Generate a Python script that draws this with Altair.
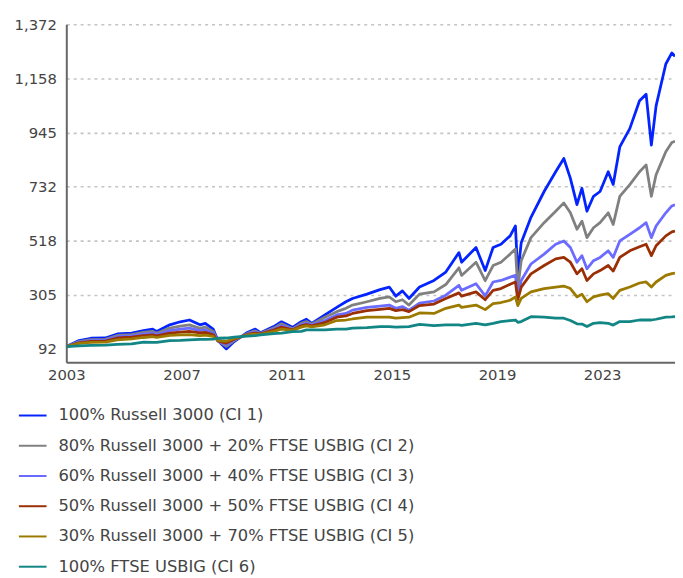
import altair as alt
import pandas as pd
from datetime import datetime, timezone

# fractional-year positions of the readings
t_years = [
    2003.113, 2003.60, 2004.05, 2004.60, 2005.05, 2005.60, 2006.05, 2006.40, 2006.55,
    2007.05, 2007.45, 2007.80, 2008.20, 2008.40, 2008.70, 2008.88, 2009.20, 2009.50,
    2010.00, 2010.30, 2010.50, 2011.00, 2011.30, 2011.72, 2012.05, 2012.25, 2012.45,
    2012.95, 2013.40, 2013.75, 2014.00, 2014.55, 2015.05, 2015.40, 2015.65, 2015.90,
    2016.15, 2016.55, 2017.10, 2017.55, 2018.05, 2018.15, 2018.70, 2019.05, 2019.35,
    2019.65, 2020.00, 2020.20, 2020.29, 2020.42, 2020.79, 2021.29, 2021.73, 2022.04,
    2022.29, 2022.54, 2022.73, 2022.92, 2023.17, 2023.42, 2023.73, 2023.92, 2024.17,
    2024.55, 2024.92, 2025.17, 2025.37, 2025.55, 2025.92, 2026.15, 2026.27,
]

ci1 = [100, 124, 133, 134, 150, 153, 163, 169, 160,
       186, 198, 205, 186, 192, 169, 124, 91, 120,
       156, 169, 155, 179, 198, 176, 198, 208, 192,
       225, 255, 277, 290, 307, 325, 335, 299, 320,
       290, 335, 361, 394, 471, 433, 491, 400, 491,
       504, 537, 576, 385, 510, 610, 712, 790, 842,
       764, 660, 725, 634, 693, 712, 790, 740, 888,
       960, 1070, 1096, 895, 1050, 1215, 1259, 1245]

ci2 = [100, 120, 128, 129, 144, 147, 156, 160, 153,
       173, 181, 186, 172, 177, 160, 123, 101, 124,
       152, 162, 153, 173, 190, 170, 192, 199, 188,
       216, 238, 251, 264, 277, 290, 296, 277, 285,
       264, 307, 316, 345, 411, 381, 433, 360, 420,
       433, 465, 485, 330, 439, 530, 589, 634, 667,
       628, 563, 595, 530, 569, 589, 628, 582, 693,
       739, 790, 817, 693, 778, 869, 905, 910]

ci3 = [100, 118, 124, 125, 139, 142, 149, 153, 147,
       163, 169, 173, 163, 166, 152, 122, 108, 127,
       150, 157, 151, 169, 182, 168, 186, 192, 185,
       203, 225, 231, 244, 255, 260, 264, 251, 258,
       244, 272, 280, 303, 342, 322, 348, 300, 355,
       361, 374, 381, 300, 361, 426, 465, 504, 517,
       491, 433, 459, 407, 439, 452, 478, 452, 517,
       543, 569, 589, 530, 576, 628, 655, 660]

ci4 = [100, 115, 121, 122, 134, 137, 143, 146, 142,
       153, 157, 160, 154, 156, 147, 123, 114, 129,
       148, 153, 150, 165, 177, 166, 182, 187, 182,
       195, 216, 221, 231, 242, 247, 251, 242, 246,
       238, 262, 268, 290, 312, 299, 316, 285, 322,
       329, 346, 355, 285, 335, 387, 420, 446, 452,
       433, 387, 407, 361, 387, 400, 420, 398, 452,
       478, 494, 504, 459, 498, 537, 553, 556]

ci5 = [100, 113, 117, 118, 127, 131, 136, 139, 136,
       144, 146, 147, 143, 145, 140, 125, 121, 132,
       146, 149, 148, 160, 169, 164, 177, 182, 178,
       186, 203, 205, 209, 216, 216, 216, 212, 214,
       216, 233, 231, 251, 264, 255, 264, 246, 270,
       274, 283, 296, 262, 290, 316, 329, 335, 339,
       329, 296, 307, 277, 296, 303, 309, 290, 322,
       335, 351, 355, 335, 355, 381, 388, 390]

ci6 = [100, 103, 105, 106, 109, 111, 118, 117, 117,
       124, 125, 127, 129, 129, 130, 133, 134, 137,
       141, 143, 146, 151, 153, 159, 160, 166, 166,
       166, 169, 169, 173, 175, 179, 179, 177, 178,
       179, 188, 183, 186, 186, 184, 192, 186, 192,
       199, 203, 205, 196, 199, 218, 216, 212, 212,
       203, 190, 189, 179, 192, 195, 192, 185, 199,
       199, 205, 205, 205, 208, 216, 217, 218]

series_names = [
    "100% Russell 3000 (CI 1)",
    "80% Russell 3000 + 20% FTSE USBIG (CI 2)",
    "60% Russell 3000 + 40% FTSE USBIG (CI 3)",
    "50% Russell 3000 + 50% FTSE USBIG (CI 4)",
    "30% Russell 3000 + 70% FTSE USBIG (CI 5)",
    "100% FTSE USBIG (CI 6)",
]
series_colors = ["#0424ff", "#808080", "#6b6bff", "#9a2f05", "#9c7a00", "#128585"]

y_ticks = [92, 305, 518, 732, 945, 1158, 1372]
x_tick_years = [2003.113, 2007.5, 2011.5, 2015.5, 2019.5, 2023.5]


def to_ms(t):
    y = int(t)
    a = datetime(y, 1, 1, tzinfo=timezone.utc)
    b = datetime(y + 1, 1, 1, tzinfo=timezone.utc)
    d = a + (b - a) * (t - y)
    return int(d.timestamp() * 1000)


rows = []
for name, vals in zip(series_names, [ci1, ci2, ci3, ci4, ci5, ci6]):
    for i, (t, v) in enumerate(zip(t_years, vals)):
        rows.append({"date": to_ms(t), "value": v, "series": name, "idx": i})
df = pd.DataFrame(rows)

x_domain = [to_ms(2003.113), to_ms(2026.27)]

chart = alt.Chart(df).mark_line(strokeWidth=2.8, strokeJoin="round").encode(
    x=alt.X(
        "date:T",
        scale=alt.Scale(type="utc", domain=x_domain, nice=False),
        axis=alt.Axis(
            title=None,
            values=[to_ms(t) for t in x_tick_years],
            labelExpr="utcFormat(datum.value, '%Y')",
            grid=False,
            ticks=False,
            labelFlush=False,
            labelOverlap=False,
            labelPadding=6,
            domainColor="#666666",
            domainWidth=2,
        ),
    ),
    y=alt.Y(
        "value:Q",
        scale=alt.Scale(domain=[38.7, 1372], nice=False, zero=False),
        axis=alt.Axis(
            title=None,
            values=y_ticks,
            labelExpr="format(datum.value, ',')",
            ticks=False,
            labelPadding=10,
            grid=True,
            gridDash=[3, 4],
            gridColor="#c4c4c4",
            gridWidth=1.6,
            gridOpacity=alt.condition("datum.value === 92", alt.value(0), alt.value(1)),
            domainColor="#666666",
            domainWidth=2,
        ),
    ),
    color=alt.Color(
        "series:N",
        sort=series_names,
        scale=alt.Scale(domain=series_names, range=series_colors),
        legend=alt.Legend(
            title=None,
            orient="none",
            legendX=-49,
            legendY=381,
            direction="vertical",
            symbolType="stroke",
            symbolSize=784,
            symbolStrokeWidth=2,
            labelFontSize=16.5,
            labelColor="#444444",
            labelOffset=11,
            labelLimit=0,
            rowPadding=6.6,
        ),
    ),
    order=alt.Order("idx:Q"),
).properties(
    width=616,
    height=342,
    autosize=alt.AutoSizeParams(type="none"),
    padding={"left": 59, "top": 13, "right": 0, "bottom": 213},
).configure(
    font="DejaVu Sans",
).configure_axis(
    labelFontSize=15,
    labelColor="#444444",
    labelFont="DejaVu Sans",
).configure_legend(
    labelFont="DejaVu Sans",
).configure_view(
    stroke=None,
)

chart.save("out.html", embed_options={"renderer": "svg", "actions": False})
